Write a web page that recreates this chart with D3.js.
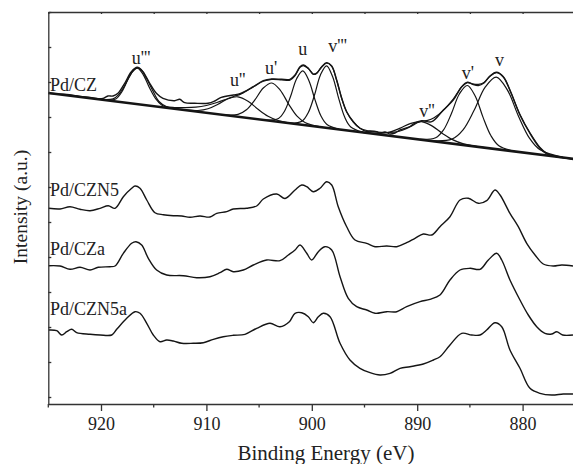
<!DOCTYPE html>
<html>
<head>
<meta charset="utf-8">
<script src="https://cdn.jsdelivr.net/npm/d3@7"></script>
<style>
  body { margin: 0; background: #fff; }
  svg { display: block; }
  svg text { font-family: "Liberation Serif", serif; }
</style>
</head>
<body>
<svg width="573" height="464"></svg>
<script>
// ticks
const energyTicks = [920, 910, 900, 890, 880];
const minorTicks = [925, 915, 905, 895, 885, 875];
const intensityTicks = [0, 35, 70, 105, 140, 175, 210, 245, 280, 315, 350, 385];

// sample labels (label intensity)
const sampleNames = ["Pd/CZ", "Pd/CZN5", "Pd/CZa", "Pd/CZN5a"];
const sampleLabelI = [306.5, 201, 142.5, 82.5];

// peak labels of the fit
const peakNames = ["u'''", "u''", "u'", "u", "v'''", "v''", "v'", "v"];
const peakLabelE = [917.09, 907.76, 904.44, 901.28, 898.43, 889.8, 885.78, 882.62];
const peakLabelI = [333, 311, 323, 342, 345.3, 280.3, 318, 331.3];

// Pd/CZ: background, raw data, envelope, components
const baselineCZ = [[925, 304], [875, 238]];

const rawCZ = [[925.0,303.7],[923.89,302.8],[923.25,302.5],[921.99,300.5],[921.04,299.6],[920.1,298.2],
  [919.81,298.7],[919.34,301],[918.86,301],[918.39,303.7],[917.75,313.7],[917.12,325.3],[916.56,329.7],
  [916.02,325.3],[915.38,313.7],[914.75,303.7],[914.12,298.7],[913.01,296.3],[912.53,297.7],[912.06,294.3],
  [911.11,293.7],[909.85,293.7],[909.21,296],[908.59,299.7],[907.45,302],[906.97,302.8],[906.34,305.5],
  [905.55,310.3],[904.6,316.3],[903.8,318],[902.86,317.7],[902.07,317.7],[901.59,322],[901.12,330.3],
  [900.81,332],[900.33,328.7],[899.86,322.7],[899.54,323.7],[899.06,330.3],[898.59,334.3],[898.11,331],
  [897.64,317],[897.16,298.7],[896.69,285.3],[896.06,275.3],[895.43,268.7],[894.79,265.5],[894.48,266],
  [893.84,265.3],[893.53,263.7],[893.06,265],[892.58,263],[892.11,264],[891.63,267],[890.68,270.5],
  [890.37,273],[889.57,276.3],[888.62,275.3],[887.52,287],[886.58,297],[885.78,310.3],[885.23,314.7],
  [884.8,313],[884.2,311.5],[883.66,314],[883.09,321],[882.48,324.7],[881.83,320.3],[881.2,307],
  [880.25,282],[879.3,263.5],[878.35,248.7],[877.71,243],[876.76,240.3],[875.98,239],[875.22,237.5]];

const envelopeCZ = [[920.5,298.3],[919.3,297.0],[918.6,298.0],[918.0,305.5],[917.4,318.5],[916.9,327],
  [916.55,329.2],[916.2,327.5],[915.7,319],[915.1,306.5],[914.5,295.5],[913.8,290.5],[913.0,289.5],
  [912.0,289.3],[911.0,289.8],[910.0,291.5],[909.0,294.5],[908.0,298.3],[907.3,301],[906.8,302.6],
  [906.34,305.2],[905.55,310],[904.6,315.8],[903.8,317.6],[902.86,317.2],[902.07,316.8],[901.59,321.3],
  [901.12,329.6],[900.81,331.4],[900.33,328.4],[899.86,323],[899.54,324],[899.06,330],[898.59,334],
  [898.11,330.6],[897.64,316.5],[897.16,298.5],[896.69,285],[896.06,275],[895.43,268.8],[894.6,266],
  [893.8,264.8],[893.0,264.4],[892.2,264.8],[891.4,266.8],[890.6,270.6],[890.0,274.2],[889.57,275.8],
  [889.0,276.6],[888.4,279.2],[887.52,286.6],[886.58,297.8],[885.78,310.2],[885.23,314.4],[884.7,313.0],
  [884.2,312.6],[883.66,314.6],[883.09,320.8],[882.48,324.4],[881.83,320.0],[881.2,306.6],[880.25,282.6],
  [879.3,264.2],[878.35,249.6],[877.71,243.8],[876.76,240.6],[875.98,239.2]];

const peakU3 = [[913.1,288.4],[914.25,292.1],[914.8,298.1],[915.4,309.3],[916.0,322.4],[916.55,328.9],
  [917.1,323.9],[917.7,312.4],[918.3,302.7],[918.85,298.1],[920.0,297.5]];
const peakU2 = [[901.3,272.8],[903.2,276.5],[904.15,280.7],[905.1,287.7],[906.05,295.8],[907.0,300.2],
  [907.95,298.3],[908.9,292.8],[909.85,288.2],[910.8,286.5],[912.7,287.8]];
const peakU1 = [[899.0,269.8],[900.6,274.2],[901.4,280.8],[902.2,292.9],[903.0,306.9],[903.8,314.0],
  [904.6,309.0],[905.4,297.1],[906.2,287.2],[907.0,282.6],[908.6,282.4]];
const peakU0 = [[897.41,267.7],[898.56,272.5],[899.14,281.2],[899.71,297.6],[900.29,316.8],[900.86,326.1],
  [901.44,318.3],[902.01,300.7],[902.59,285.8],[903.16,278.6],[904.31,276.8]];
const peakV3 = [[895.15,264.7],[896.3,270.0],[896.88,279.9],[897.45,298.6],[898.03,320.5],[898.6,331.2],
  [899.18,322.1],[899.75,301.7],[900.33,284.5],[900.9,276.1],[902.05,273.8]];
const peakV2 = [[883.6,249.4],[885.6,253.1],[886.6,257.1],[887.6,263.6],[888.6,271.1],[889.6,275.3],
  [890.6,273.7],[891.6,268.9],[892.6,265.0],[893.6,263.7],[895.6,265.2]];
const peakV1 = [[880.75,245.7],[882.25,251.3],[883.0,261.2],[883.75,279.6],[884.5,301.0],[885.25,311.5],
  [886.0,303.0],[886.75,283.5],[887.5,267.1],[888.25,259.2],[889.75,257.6]];
const peakV0 = [[876.2,239.7],[878.3,246.9],[879.35,258.9],[880.4,281.1],[881.45,307.1],[882.5,319.9],
  [883.55,309.8],[884.6,286.7],[885.65,267.2],[886.7,257.9],[888.8,256.4]];

// other samples, raw data
const rawCZN5 = [[924.96,188.7],[923.89,188],[922.94,190.3],[921.99,187.7],[921.04,186.3],[920.09,188.7],
  [919.31,191.3],[918.67,188.7],[917.88,200.3],[917.09,208.7],[916.77,211],[916.3,208.7],[915.66,197],
  [914.88,184.3],[914.09,182.3],[913.14,181.3],[912.34,181],[911.56,179.7],[910.61,181],[909.66,180],
  [909.02,183.7],[908.07,185.3],[907.45,188],[906.18,188.7],[905.23,191],[904.6,198],[903.33,203],
  [902.54,198.5],[901.59,207],[900.96,212],[900.48,210.3],[899.86,205.3],[899.22,208.7],[898.59,215.3],
  [898.11,212],[897.49,190.3],[896.69,170.3],[895.9,157],[894.79,153.7],[894.0,150.3],[892.89,151],
  [891.94,150.3],[891.0,154.3],[890.21,158.7],[889.42,163],[888.62,162],[887.84,170.3],[886.89,180.3],
  [885.94,197],[885.15,198.7],[884.2,193.7],[883.41,196.3],[882.62,207],[882.14,202],[881.2,183.7],
  [880.41,170.3],[879.61,153.7],[878.82,142],[878.04,133],[877.09,131],[876.29,132],[875.22,131]];

const rawCZa = [[924.96,131.3],[923.89,131],[922.94,127.7],[921.99,129.7],[921.04,127],[920.26,129.7],
  [919.15,130.3],[918.67,131],[917.88,143.7],[917.09,153.7],[916.68,155.3],[916.14,152],[915.51,138.7],
  [914.72,127],[913.77,122],[912.19,121.3],[910.92,119.3],[909.66,120.3],[908.71,124.3],[908.07,127.7],
  [907.45,125.3],[906.5,127],[905.55,132],[904.28,137],[903.02,136.3],[902.23,142],[901.59,147],
  [901.12,152],[900.48,143.7],[900.01,137],[899.38,145.3],[898.75,150.3],[898.11,147],[897.32,120.3],
  [896.54,98.7],[895.74,90.3],[894.79,87],[894.0,83.7],[892.89,85.3],[891.94,85.3],[891.0,90.3],
  [889.73,95.3],[888.79,97.7],[887.84,102],[886.89,117],[885.94,127],[884.99,128.7],[884.04,127.7],
  [883.25,137],[882.46,143.7],[881.98,137],[881.2,117],[880.25,97],[879.46,82],[878.66,70.3],
  [877.88,63.7],[877.24,63],[876.76,65.3],[876.2,62],[875.22,62]];

const rawCZN5a = [[924.96,67],[924.2,66.3],[923.73,62],[923.25,65.3],[922.78,67.7],[922.31,64.3],
  [921.04,62.7],[920.09,62],[918.98,62],[918.51,67.7],[917.56,78.7],[916.77,85.3],[916.3,83.7],
  [915.66,73.7],[915.04,62],[914.4,55.3],[913.77,57],[913.14,56],[912.34,53.7],[911.24,53.7],
  [910.29,54.3],[909.34,57.7],[908.4,60.3],[907.45,61.7],[906.34,62.7],[905.23,68.7],[903.97,73.7],
  [903.02,70.3],[902.13,75.3],[901.59,83.7],[900.96,84.3],[900.33,80.3],[899.86,74.3],[899.38,80.3],
  [898.91,83.7],[898.27,80.3],[897.32,53.7],[896.38,37],[895.43,28.7],[894.48,24.3],[893.53,22],
  [892.58,23.7],[891.63,28.7],[890.68,30.3],[889.42,33],[888.47,37],[887.84,40.3],[886.89,52],
  [885.78,63.7],[884.83,62],[884.04,62],[883.41,67],[882.62,74.3],[881.98,70.3],[881.2,47],
  [880.25,28.7],[879.3,8.7],[878.35,3.7],[877.24,2],[876.14,3],[875.22,3]];

function drawChart() {
  const svg = d3.select("svg");
  const ink = "#151515";
  const serif = "Liberation Serif";

  let xScale = d3.scaleLinear().domain([925, 875]).range([48.3, 575.3]);
  let yScale = d3.scaleLinear().domain([-7, 385]).range([404, 12]);

  let line = d3.line()
    .x(d => xScale(d[0]))
    .y(d => yScale(d[1]))
    .curve(d3.curveCatmullRom.alpha(0.5));

  // fit components (thin)
  const components = [peakU3, peakU2, peakU1, peakU0, peakV3, peakV2, peakV1, peakV0];
  svg.selectAll("path.component")
    .data(components)
    .join("path")
    .attr("class", "component")
    .attr("d", line)
    .attr("fill", "none")
    .attr("stroke", ink)
    .attr("stroke-width", 1.2);

  // envelope and raw data
  svg.append("path")
    .attr("d", line(envelopeCZ))
    .attr("fill", "none")
    .attr("stroke", ink)
    .attr("stroke-width", 1.2);

  svg.selectAll("path.raw")
    .data([rawCZ, rawCZN5, rawCZa, rawCZN5a])
    .join("path")
    .attr("class", "raw")
    .attr("d", line)
    .attr("fill", "none")
    .attr("stroke", ink)
    .attr("stroke-width", 1.4);

  // background line
  svg.append("path")
    .attr("d", d3.line().x(d => xScale(d[0])).y(d => yScale(d[1]))(baselineCZ))
    .attr("fill", "none")
    .attr("stroke", ink)
    .attr("stroke-width", 2.6);

  // set axis
  let xAxis = d3.axisBottom(xScale)
    .tickValues(energyTicks).tickSizeInner(7).tickSizeOuter(0).tickPadding(6)
    .tickFormat(d3.format("d"));
  let xAxisG = svg.append("g")
    .attr("id", "xAxisG")
    .attr("transform", "translate(0, 404)")
    .call(xAxis);
  xAxisG.selectAll("line.minor")
    .data(minorTicks)
    .join("line")
    .attr("class", "minor")
    .attr("x1", d => xScale(d)).attr("x2", d => xScale(d))
    .attr("y1", 0).attr("y2", 3.5);

  let yAxis = d3.axisLeft(yScale)
    .tickValues(intensityTicks).tickSizeInner(-3).tickSizeOuter(0).tickFormat("");
  svg.append("g")
    .attr("id", "yAxisG")
    .attr("transform", "translate(48.3, 0)")
    .call(yAxis);

  // top frame with small inward ticks
  let topAxis = d3.axisTop(xScale)
    .tickValues(energyTicks.concat(minorTicks)).tickSizeInner(-2).tickSizeOuter(0).tickFormat("");
  svg.append("g")
    .attr("id", "topAxisG")
    .attr("transform", "translate(0, 12)")
    .call(topAxis);

  svg.selectAll("#xAxisG path, #xAxisG line, #yAxisG path, #yAxisG line, #topAxisG path, #topAxisG line")
    .attr("stroke", "#333")
    .attr("stroke-width", 1.3);

  xAxisG.attr("font-family", serif).attr("font-size", 18);
  xAxisG.selectAll("text")
    .attr("font-family", serif)
    .attr("font-size", 18)
    .attr("fill", "#222");

  // sample names
  svg.selectAll("text.sample")
    .data(sampleNames)
    .join("text")
    .attr("class", "sample")
    .attr("x", xScale(924.84))
    .attr("y", (d, i) => yScale(sampleLabelI[i]))
    .attr("font-family", serif)
    .attr("font-size", 18)
    .attr("fill", "#222")
    .text(d => d);

  // peak names
  svg.selectAll("text.peak")
    .data(peakNames)
    .join("text")
    .attr("class", "peak")
    .attr("x", (d, i) => xScale(peakLabelE[i]))
    .attr("y", (d, i) => yScale(peakLabelI[i]))
    .attr("font-family", serif)
    .attr("font-size", 18)
    .attr("fill", "#222")
    .text(d => d);

  // axis titles
  svg.append("text")
    .attr("x", 326)
    .attr("y", 460)
    .attr("text-anchor", "middle")
    .attr("font-family", serif)
    .attr("font-size", 21)
    .attr("fill", "#222")
    .text("Binding Energy (eV)");

  svg.append("text")
    .attr("transform", "translate(26.5, 207) rotate(-90)")
    .attr("text-anchor", "middle")
    .attr("font-family", serif)
    .attr("font-size", 19.5)
    .attr("fill", "#222")
    .text("Intensity (a.u.)");
}

drawChart();
</script>
</body>
</html>
